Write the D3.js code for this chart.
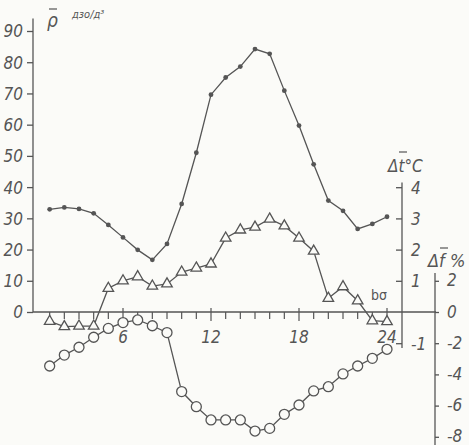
<!DOCTYPE html>
<html>
<head>
<meta charset="utf-8">
<script src="https://cdn.jsdelivr.net/npm/d3@7"></script>
<style>
  body { margin: 0; background: #fbfbf8; }
  svg text { font-family: "Liberation Sans Narrow", "DejaVu Sans Condensed", sans-serif; font-style: italic; fill: #555; }
  .ax line, .ax path { stroke: #555; stroke-width: 1.3; }
</style>
</head>
<body>
<div id="chart"></div>
<script>
// hours of the day
var hours = d3.range(1, 25);
// mean density P, left axis
var pValues = [32.9, 33.5, 33.0, 31.6, 27.9, 23.9, 19.9, 16.7, 21.8, 34.6, 51.0, 69.6,
               75.1, 78.6, 84.2, 82.7, 70.9, 59.7, 47.3, 35.7, 32.4, 26.6, 28.2, 30.5];
// temperature deviation, degC (triangles)
var dtValues = [-0.3, -0.47, -0.45, -0.45, 0.76, 1.0, 1.13, 0.83, 0.9, 1.28, 1.41, 1.54,
                2.37, 2.63, 2.72, 2.98, 2.76, 2.37, 1.95, 0.44, 0.81, 0.36, -0.28, -0.31];
// humidity deviation, % (circles)
var dfValues = [-3.46, -2.76, -2.26, -1.62, -1.05, -0.68, -0.51, -0.88, -1.32, -5.1, -6.07, -6.92,
                -6.92, -6.92, -7.63, -7.46, -6.56, -5.96, -5.06, -4.79, -3.97, -3.46, -2.97, -2.39];
var pTicks = d3.range(0, 100, 10);
var dtTicks = [-1, 1, 2, 3, 4];
var dfTicks = [-8, -6, -4, -2, 0, 2];
var hourLabels = [6, 12, 18, 24];

var W = 469, H = 445;
var ink = "#555";
var hyph = function(d) { return d < 0 ? "-" + (-d) : "" + d; };

var svg = d3.select("#chart").append("svg")
    .attr("width", W).attr("height", H);

var x = d3.scaleLinear().domain([0, 24]).range([35, 387]);
var yP = d3.scaleLinear().domain([0, 90]).range([312, 31]);
var yT = d3.scaleLinear().domain([0, 4]).range([312, 187.2]);
var yF = d3.scaleLinear().domain([0, 2]).range([312, 280.8]);

// left axis
var gL = svg.append("g").attr("class", "ax").attr("transform", "translate(33,0)")
    .call(d3.axisLeft(yP).tickValues(pTicks).tickSize(6).tickPadding(4).tickFormat(hyph));
gL.select(".domain").remove();
gL.selectAll("text").attr("font-size", 17).attr("dy", "0.35em");
svg.append("line").attr("x1", 33).attr("x2", 33).attr("y1", yP(94)).attr("y2", yP(0))
    .attr("stroke", ink).attr("stroke-width", 1.3);

// bottom axis (hours)
svg.append("line").attr("x1", 33).attr("x2", 436).attr("y1", yP(0)).attr("y2", yP(0))
    .attr("stroke", ink).attr("stroke-width", 1.3);
svg.append("g").selectAll("line").data(hours).join("line")
    .attr("x1", function(d) { return x(d); }).attr("x2", function(d) { return x(d); })
    .attr("y1", function(d) { return yP(0) - (d % 6 === 0 ? 4 : 0); })
    .attr("y2", function(d) { return yP(0) + (d % 6 === 0 ? 9 : 7); })
    .attr("stroke", ink).attr("stroke-width", 1.2);
svg.append("g").selectAll("text").data(hourLabels).join("text")
    .attr("x", function(d) { return x(d); }).attr("y", 343)
    .attr("text-anchor", "middle").attr("font-size", 17)
    .text(function(d) { return d; });

// delta t axis
var gT = svg.append("g").attr("class", "ax").attr("transform", "translate(402,0)")
    .call(d3.axisRight(yT).tickValues(dtTicks).tickSizeInner(-6).tickSizeOuter(0).tickPadding(9).tickFormat(hyph));
gT.select(".domain").remove();
gT.selectAll("text").attr("font-size", 17).attr("dy", "0.35em");
svg.append("line").attr("x1", 402).attr("x2", 402).attr("y1", yT(4.15)).attr("y2", yT(-1.15))
    .attr("stroke", ink).attr("stroke-width", 1.3);

// delta f axis
var gF = svg.append("g").attr("class", "ax").attr("transform", "translate(435,0)")
    .call(d3.axisRight(yF).tickValues(dfTicks).tickSize(4).tickPadding(8).tickFormat(hyph));
gF.select(".domain").remove();
gF.selectAll("text").attr("font-size", 17).attr("dy", "0.3em");
svg.append("line").attr("x1", 435).attr("x2", 435).attr("y1", yF(2.5)).attr("y2", H)
    .attr("stroke", ink).attr("stroke-width", 1.3);

// axis titles
svg.append("text").attr("x", 47).attr("y", 27).attr("font-size", 19).text("ρ");
svg.append("line").attr("x1", 49).attr("x2", 57).attr("y1", 9).attr("y2", 9).attr("stroke", ink).attr("stroke-width", 1.2);
svg.append("text").attr("x", 72).attr("y", 18).attr("font-size", 11).text("дзо/д³");

svg.append("text").attr("x", 388).attr("y", 172).attr("font-size", 17).text("Δt°C");
svg.append("line").attr("x1", 399).attr("x2", 407).attr("y1", 152).attr("y2", 152).attr("stroke", ink).attr("stroke-width", 1.2);
svg.append("text").attr("x", 428).attr("y", 267).attr("font-size", 18).text("Δf %");
svg.append("line").attr("x1", 440).attr("x2", 448).attr("y1", 248).attr("y2", 248).attr("stroke", ink).attr("stroke-width", 1.2);
svg.append("text").attr("x", 371).attr("y", 300).attr("font-size", 14).style("font-style", "normal").text("bσ");

// series lines
var lineP = d3.line().x(function(d, i) { return x(hours[i]); }).y(function(d) { return yP(d); });
var lineT = d3.line().x(function(d, i) { return x(hours[i]); }).y(function(d) { return yT(d); });
var lineF = d3.line().x(function(d, i) { return x(hours[i]); }).y(function(d) { return yF(d); });

svg.append("path").datum(pValues).attr("d", lineP).attr("fill", "none").attr("stroke", ink).attr("stroke-width", 1.3);
svg.append("path").datum(dtValues).attr("d", lineT).attr("fill", "none").attr("stroke", ink).attr("stroke-width", 1.3);
svg.append("path").datum(dfValues).attr("d", lineF).attr("fill", "none").attr("stroke", ink).attr("stroke-width", 1.3);

// markers
svg.append("g").selectAll("circle").data(pValues).join("circle")
    .attr("cx", function(d, i) { return x(hours[i]); }).attr("cy", function(d) { return yP(d); })
    .attr("r", 2.4).attr("fill", ink);

var tri = d3.symbol().type(d3.symbolTriangle).size(48);
svg.append("g").selectAll("path").data(dtValues).join("path")
    .attr("d", tri)
    .attr("transform", function(d, i) { return "translate(" + x(hours[i]) + "," + yT(d) + ")"; })
    .attr("fill", "#fbfbf8").attr("stroke", ink).attr("stroke-width", 1.3);

svg.append("g").selectAll("circle").data(dfValues).join("circle")
    .attr("cx", function(d, i) { return x(hours[i]); }).attr("cy", function(d) { return yF(d); })
    .attr("r", 5).attr("fill", "#fbfbf8").attr("stroke", ink).attr("stroke-width", 1.3);
</script>
</body>
</html>
